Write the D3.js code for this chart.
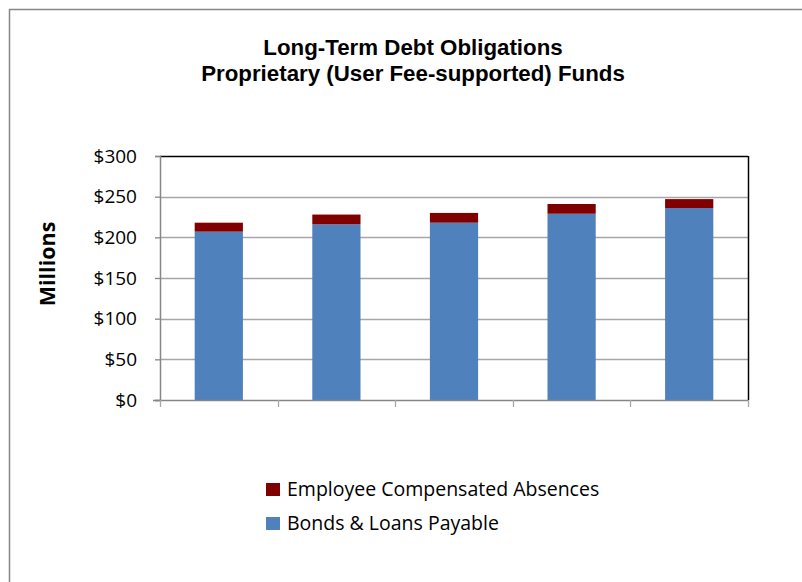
<!DOCTYPE html>
<html>
<head>
<meta charset="utf-8">
<script src="https://cdn.jsdelivr.net/npm/d3@7"></script>
<style>
  html, body { margin: 0; padding: 0; background: #fff; }
  svg { display: block; }
</style>
</head>
<body>
<svg id="chart" width="802" height="582"></svg>
<script>
// Fiscal periods (unlabelled on the axis)
const categories = ["1", "2", "3", "4", "5"];
// Values in $ millions
const bondsLoans = [207, 216, 218, 229, 236];
const compAbsences = [11, 12, 12, 12, 11];
const seriesNames = ["Bonds & Loans Payable", "Employee Compensated Absences"];
const seriesColors = ["#4f81bd", "#800000"];
const yTicks = [0, 50, 100, 150, 200, 250, 300];
const titleLines = ["Long-Term Debt Obligations", "Proprietary (User Fee-supported) Funds"];

const svg = d3.select("#chart");
const W = 802, H = 582;
const plot = { left: 160, right: 748, top: 156, bottom: 400 };
const bodyFont = "'Open Sans', Lato, sans-serif";

// outer chart frame
svg.append("rect")
  .attr("x", 9.5).attr("y", 9.5)
  .attr("width", W).attr("height", H)
  .attr("fill", "#fff").attr("stroke", "#868686").attr("stroke-width", 1.5);

const rows = categories.map((c, i) => ({
  cat: c,
  bonds: bondsLoans[i],
  absences: compAbsences[i]
}));
const stacked = d3.stack().keys(["bonds", "absences"])(rows);

const x = d3.scaleBand().domain(categories)
  .range([plot.left, plot.right]).paddingInner(0.59).paddingOuter(0.295);
const xOuter = d3.scaleBand().domain(categories).range([plot.left, plot.right]);
const y = d3.scaleLinear().domain([0, 300]).range([plot.bottom, plot.top]);

// gridlines
svg.append("g")
  .selectAll("line").data(yTicks.filter(t => t > 0)).join("line")
  .attr("x1", plot.left).attr("x2", plot.right)
  .attr("y1", d => Math.round(y(d)) + 0.5).attr("y2", d => Math.round(y(d)) + 0.5)
  .attr("stroke", d => d === 300 ? "#000" : "#a6a6a6")
  .attr("stroke-width", d => d === 300 ? 1.5 : 1.3);

// right border of plot area
svg.append("line")
  .attr("x1", plot.right + 0.5).attr("x2", plot.right + 0.5)
  .attr("y1", plot.top).attr("y2", plot.bottom)
  .attr("stroke", "#000").attr("stroke-width", 1.5);

// stacked bars
svg.append("g")
  .selectAll("g").data(stacked).join("g")
  .attr("fill", (d, i) => seriesColors[i])
  .selectAll("rect").data(d => d).join("rect")
  .attr("x", d => x(d.data.cat))
  .attr("width", x.bandwidth())
  .attr("y", d => y(d[1]))
  .attr("height", d => y(d[0]) - y(d[1]));

// y axis
const yAxis = d3.axisLeft(y).tickValues(yTicks)
  .tickFormat(d => "$" + d).tickSize(5).tickPadding(18);
const gy = svg.append("g")
  .attr("transform", `translate(${plot.left},0)`)
  .call(yAxis);
gy.select(".domain").attr("stroke", "#868686").attr("stroke-width", 1.5);
gy.selectAll(".tick line").attr("stroke", "#868686").attr("stroke-width", 1.3);
gy.selectAll(".tick text")
  .attr("font-family", bodyFont).attr("font-size", 19).attr("fill", "#000");

// x axis: tick marks on category boundaries, no labels
const boundaries = categories.map(c => xOuter(c)).concat([plot.right]);
svg.append("line")
  .attr("x1", plot.left - 7).attr("x2", plot.right)
  .attr("y1", plot.bottom + 0.5).attr("y2", plot.bottom + 0.5)
  .attr("stroke", "#868686").attr("stroke-width", 1.5);
svg.append("g").selectAll("line").data(boundaries).join("line")
  .attr("x1", d => Math.round(d) + 0.5).attr("x2", d => Math.round(d) + 0.5)
  .attr("y1", plot.bottom).attr("y2", plot.bottom + 7)
  .attr("stroke", "#a6a6a6").attr("stroke-width", 1.3);

// title
svg.append("g").selectAll("text").data(titleLines).join("text")
  .attr("x", 413).attr("y", (d, i) => 55 + i * 26)
  .attr("text-anchor", "middle")
  .attr("font-family", "'Liberation Sans', Arial, sans-serif")
  .attr("font-weight", "bold").attr("font-size", 22.3)
  .attr("fill", "#000")
  .text(d => d);

// y axis title
svg.append("text")
  .attr("transform", "translate(55,264) rotate(-90)")
  .attr("text-anchor", "middle")
  .attr("font-family", bodyFont).attr("font-weight", "bold").attr("font-size", 21.5)
  .attr("fill", "#000")
  .text("Millions");

// legend (top entry is the top stack segment)
const legendItems = [1, 0];
const lg = svg.append("g").selectAll("g").data(legendItems).join("g")
  .attr("transform", (d, i) => `translate(266,${483 + i * 34})`);
lg.append("rect").attr("width", 14).attr("height", 13)
  .attr("fill", d => seriesColors[d]);
lg.append("text")
  .attr("x", 21).attr("y", 13)
  .attr("font-family", bodyFont).attr("font-size", 19.5).attr("fill", "#000")
  .text(d => seriesNames[d]);
</script>
</body>
</html>
